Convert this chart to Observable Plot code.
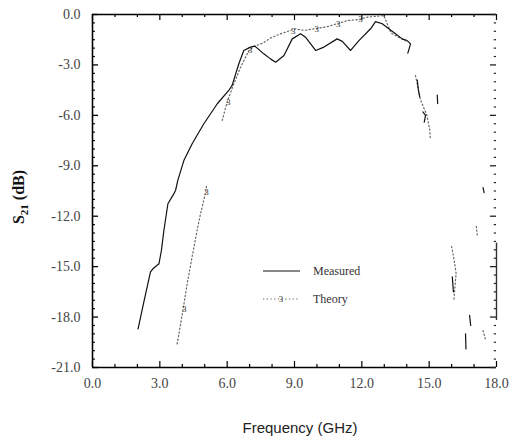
<!DOCTYPE html>
<html>
<head>
<meta charset="utf-8">
<script src="https://cdn.jsdelivr.net/npm/d3@7"></script>
<script src="https://cdn.jsdelivr.net/npm/@observablehq/plot@0.6"></script>
<style>
  html, body { margin: 0; padding: 0; background: #fff; }
  #chart { width: 509px; height: 437px; overflow: hidden; }
</style>
</head>
<body>
<div id="chart"></div>
<script>
// ---- data ----
const measuredFreq = [2.03,2.24,2.58,2.69,2.96,3.07,3.18,3.36,3.62,3.70,3.80,4.07,4.44,4.96,5.56,6.07,6.22,6.52,6.74,7.04,7.22,7.34,7.63,7.93,8.16,8.53,8.90,9.27,9.49,9.94,10.31,10.90,11.13,11.50,11.87,12.39,12.61,12.91,13.20,13.50,13.80,14.02,14.17,14.05,
  NaN,14.47,14.52,14.58,NaN,14.72,14.84,14.78,NaN,15.36,15.38,NaN,16.03,16.08,NaN,16.80,16.85,NaN,16.62,16.64,NaN,17.40,17.45];
const measuredDb = [-18.7,-17.4,-15.33,-15.13,-14.83,-14.04,-12.85,-11.26,-10.67,-10.47,-9.87,-8.69,-7.69,-6.50,-5.31,-4.52,-4.22,-2.93,-2.14,-1.94,-1.88,-2.0,-2.34,-2.64,-2.84,-2.44,-1.45,-1.15,-1.35,-2.14,-1.94,-1.45,-1.6,-2.14,-1.55,-0.85,-0.42,-0.55,-0.85,-1.15,-1.45,-1.55,-1.75,-2.3,
  NaN,-3.9,-4.5,-4.9,NaN,-5.8,-6.0,-6.4,NaN,-4.8,-5.3,NaN,-15.6,-16.5,NaN,-17.9,-18.5,NaN,-19.0,-19.9,NaN,-10.3,-10.6];

const theoryFreq = [3.77,3.85,4.04,4.22,4.44,4.66,4.78,5.04,5.08,NaN,5.78,6.0,6.3,6.6,6.97,7.2,7.6,7.93,8.38,8.82,9.05,9.42,9.86,10.38,10.9,11.35,11.87,12.24,12.98,13.3,13.7,14.0,
  NaN,14.39,14.62,14.9,15.03,15.05,NaN,16.0,16.1,16.2,16.15,16.1,NaN,17.1,17.15,NaN,17.4,17.5];
const theoryDb = [-19.6,-19.0,-17.5,-16.0,-14.4,-12.85,-12.06,-10.57,-10.2,NaN,-6.3,-5.2,-4.12,-3.13,-2.14,-1.9,-1.7,-1.4,-1.15,-0.95,-0.85,-0.95,-0.85,-0.75,-0.55,-0.36,-0.3,-0.16,-0.06,-1.1,-1.4,-1.6,
  NaN,-3.63,-5.1,-6.0,-6.9,-7.4,NaN,-13.8,-14.5,-15.4,-16.2,-17.0,NaN,-12.6,-13.2,NaN,-18.8,-19.3];

const markerFreq = [4.04,5.04,6.0,6.97,8.9,9.95,10.9,11.9];
const markerDb = [-17.5,-10.57,-5.2,-2.14,-1.0,-0.85,-0.55,-0.3];

const xMajor = [0,3,6,9,12,15,18];
const xMinor = [1,2,4,5,7,8,10,11,13,14,16,17];
const yMajor = [0,-3,-6,-9,-12,-15,-18,-21];
const yMinor = d3.range(-20.5, 0, 0.5).filter(v => Math.abs(v % 3) > 1e-9);

const seriesNames = ["Measured", "Theory"];
const xTitle = "Frequency (GHz)";

const measured = measuredFreq.map((f, i) => ({f, d: measuredDb[i]}));
const theory = theoryFreq.map((f, i) => ({f, d: theoryDb[i]}));
const markers = markerFreq.map((f, i) => ({f, d: markerDb[i]}));

const SERIF = "'Liberation Serif', 'DejaVu Serif', serif";
const W = 509, H = 437;
const chart = Plot.plot({
  width: W, height: H,
  marginTop: 14, marginRight: 13, marginBottom: 70, marginLeft: 92,
  style: {fontFamily: SERIF, fontSize: "14px", background: "#fff", color: "#333"},
  x: {domain: [0, 18]},
  y: {domain: [-21, 0]},
  marks: [
    // frame
    Plot.ruleX([0], {stroke: "#000", strokeWidth: 1.6}),
    Plot.ruleY([0], {stroke: "#000", strokeWidth: 1.6}),
    Plot.ruleY([-21], {stroke: "#000", strokeWidth: 1.6}),
    Plot.ruleX([18], {y1: -13.6, y2: -18.2, stroke: "#333", strokeWidth: 1.4}),
    // left ticks
    Plot.ruleY(yMajor, {x1: 0, x2: 0.27, stroke: "#000", strokeWidth: 1.3}),
    Plot.ruleY(yMinor, {x1: 0, x2: 0.13, stroke: "#000", strokeWidth: 1.2}),
    // right ticks
    Plot.ruleY(yMajor, {x1: 17.73, x2: 18, stroke: "#222", strokeWidth: 1.3}),
    Plot.ruleY(yMinor, {x1: 17.9, x2: 18, stroke: "#222", strokeWidth: 1.2}),
    // bottom ticks
    Plot.ruleX(xMajor, {y1: -21, y2: -20.64, stroke: "#000", strokeWidth: 1.2}),
    Plot.ruleX(xMinor, {y1: -21, y2: -20.82, stroke: "#000", strokeWidth: 1.2}),
    // top ticks
    Plot.ruleX(xMajor, {y1: 0, y2: -0.36, stroke: "#000", strokeWidth: 1.2}),
    Plot.ruleX(xMinor, {y1: 0, y2: -0.18, stroke: "#000", strokeWidth: 1.2}),
    // axes labels
    Plot.axisX(xMajor, {anchor: "bottom", tickSize: 0, tickPadding: 11, tickFormat: d => d.toFixed(1), label: null, fill: "#444"}),
    Plot.axisY(yMajor, {anchor: "left", tickSize: 0, tickPadding: 12, tickFormat: d => (d === 0 ? 0 : d).toFixed(1), label: null, fill: "#444"}),
    // data
    Plot.line(theory, {x: "f", y: "d", stroke: "#666", strokeWidth: 1.2, strokeDasharray: "1.3,2.4"}),
    Plot.text(markers, {x: "f", y: "d", text: () => "3", fontSize: 9, fill: "#333", dx: 1}),
    Plot.line(measured, {x: "f", y: "d", stroke: "#111", strokeWidth: 1.2})
  ]
});
document.getElementById("chart").appendChild(chart);

const svg = d3.select(chart);
svg.selectAll("text").style("font-family", SERIF);
// y title
const yt = svg.append("text")
  .attr("transform", "translate(24,197) rotate(-90)")
  .attr("text-anchor", "middle")
  .style("font-family", SERIF)
  .style("font-size", "16px").style("font-weight", "bold").attr("fill", "#111");
yt.append("tspan").text("S");
yt.append("tspan").style("font-size", "11px").attr("dy", 4).text("21");
yt.append("tspan").attr("dy", -4).text(" (dB)");
// x title
svg.append("text").attr("x", 300).attr("y", 433)
  .attr("text-anchor", "middle")
  .style("font-family", "'Liberation Sans', sans-serif")
  .style("font-size", "15px").attr("fill", "#222").text(xTitle);
// legend
const lg = svg.append("g").style("font-family", SERIF).style("font-size", "12px").attr("fill", "#333");
lg.append("line").attr("x1", 263).attr("x2", 300).attr("y1", 271).attr("y2", 271).attr("stroke", "#111").attr("stroke-width", 1.2);
lg.append("text").attr("x", 313).attr("y", 275).attr("text-anchor", "start").text(seriesNames[0]);
lg.append("line").attr("x1", 263).attr("x2", 300).attr("y1", 299).attr("y2", 299).attr("stroke", "#666").attr("stroke-width", 1.2).attr("stroke-dasharray", "1.3,2.4");
lg.append("text").attr("x", 281).attr("y", 302).style("font-size", "9px").attr("text-anchor", "middle").text("3");
lg.append("text").attr("x", 313).attr("y", 303).attr("text-anchor", "start").text(seriesNames[1]);
</script>
</body>
</html>
